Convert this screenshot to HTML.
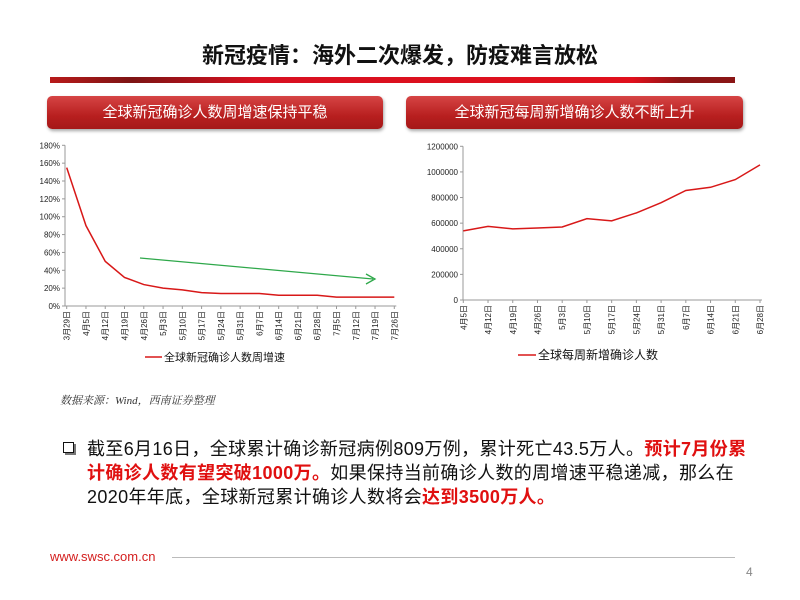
<!DOCTYPE html>
<html><head><meta charset="utf-8">
<style>
body{margin:0;width:800px;height:600px;background:#fff;position:relative;overflow:hidden;font-family:"Liberation Sans","Noto Sans CJK SC",sans-serif;}
.abs{position:absolute;}
.hdr{position:absolute;top:96px;height:33px;border-radius:5px;background:linear-gradient(#d64545,#b81f1f 60%,#a51818);color:#fff;font-size:15px;line-height:33px;text-align:center;box-shadow:1px 2px 3px rgba(0,0,0,0.35);}
.body{position:absolute;left:87px;top:437px;font-size:18px;line-height:24px;color:#111;letter-spacing:0.35px;white-space:nowrap;}
.red{color:#e01010;font-weight:bold;}
</style></head><body>
<div class="abs" style="left:0;top:38px;width:800px;text-align:center;font-size:22px;font-weight:bold;color:#111;">新冠疫情：海外二次爆发，防疫难言放松</div>
<div class="abs" style="left:50px;top:77px;width:685px;height:6px;background:linear-gradient(90deg,#b81a1a 0%,#7d1414 12%,#d81020 30%,#e0101c 85%,#8a1515 92%);"></div>
<div class="hdr" style="left:47px;width:336px;">全球新冠确诊人数周增速保持平稳</div>
<div class="hdr" style="left:406px;width:337px;">全球新冠每周新增确诊人数不断上升</div>

<svg class="abs" style="left:0;top:0" width="800" height="600">
<g id="left"></g>
<g id="right"></g>
</svg>

<div class="abs" style="left:60px;top:392px;font-size:11px;font-style:italic;color:#333;font-family:'Liberation Serif','Noto Serif CJK SC',serif;">数据来源：Wind，西南证券整理</div>
<div class="abs" style="left:63px;top:442px;width:9px;height:9px;border:1.5px solid #111;box-shadow:2px 2px 0 #777;"></div>
<div class="body">截至6月16日，全球累计确诊新冠病例809万例，累计死亡43.5万人。<span class="red">预计7月份累<br>计确诊人数有望突破1000万。</span>如果保持当前确诊人数的周增速平稳递减，那么在<br>2020年年底，全球新冠累计确诊人数将会<span class="red">达到3500万人。</span></div>
<div class="abs" style="left:50px;top:549px;font-size:13px;color:#d42020;">www.swsc.com.cn</div>
<div class="abs" style="left:172px;top:557px;width:563px;height:1px;background:#bbb;"></div>
<div class="abs" style="left:746px;top:565px;font-size:12px;color:#888;">4</div>

<script>
const leftCats=["3月29日","4月5日","4月12日","4月19日","4月26日","5月3日","5月10日","5月17日","5月24日","5月31日","6月7日","6月14日","6月21日","6月28日","7月5日","7月12日","7月19日","7月26日"];
const leftVals=[155,90,50,32,24,20,18,15,14,14,14,12,12,12,10,10,10,10];
const leftTicks=[0,20,40,60,80,100,120,140,160,180];
const rightCats=["4月5日","4月12日","4月19日","4月26日","5月3日","5月10日","5月17日","5月24日","5月31日","6月7日","6月14日","6月21日","6月28日"];
const rightVals=[540000,575000,555000,562000,570000,635000,618000,680000,760000,855000,880000,940000,1055000];
const rightTicks=[0,200000,400000,600000,800000,1000000,1200000];
const NS="http://www.w3.org/2000/svg";
function mk(p,t,a){const e=document.createElementNS(NS,t);for(const k in a)e.setAttribute(k,a[k]);p.appendChild(e);return e;}
function chart(g,cats,vals,ticks,fmt,x0,x1,y0,y1,ymax,axisX,name){
  const n=cats.length,step=(x1-x0)/(n-1);
  const xs=i=>x0+i*step, ys=v=>y0-(v/ymax)*(y0-y1);
  let ax=mk(g,'line',{x1:axisX,y1:y1,x2:axisX,y2:y0,stroke:'#999','stroke-width':1});
  
  let bx=mk(g,'line',{x1:axisX,y1:y0,x2:x1+2,y2:y0,stroke:'#999','stroke-width':1});
  
  ticks.forEach(t=>{
    mk(g,'line',{x1:axisX-3,y1:ys(t),x2:axisX,y2:ys(t),stroke:'#999'});
    const tx=mk(g,'text',{x:axisX-5,y:ys(t)+3,'font-size':8,'text-anchor':'end',fill:'#222'});
    tx.textContent=fmt(t);
    
  });
  cats.forEach((c,i)=>{
    mk(g,'line',{x1:xs(i),y1:y0,x2:xs(i),y2:y0+3,stroke:'#999'});
    const tx=mk(g,'text',{transform:`translate(${xs(i)+3},${y0+5}) rotate(-90)`,'font-size':8,'text-anchor':'end',fill:'#222'});
    tx.textContent=c;
    
  });
  const pl=mk(g,'polyline',{points:vals.map((v,i)=>xs(i)+','+ys(v)).join(' '),fill:'none',stroke:'#d81818','stroke-width':1.5});
  
}
const L=document.getElementById('left'),R=document.getElementById('right');
chart(L,leftCats,leftVals,leftTicks,t=>t+'%',66.7,394.3,306,145.3,180,65,'growth-rate-line');
chart(R,rightCats,rightVals,rightTicks,t=>String(t),463.3,760,300,146.3,1200000,463,'weekly-new-cases-line');
const ar=mk(L,'line',{x1:140,y1:258,x2:373,y2:279,stroke:'#2ea84a','stroke-width':1.3});

mk(L,'polyline',{points:'366,274 375,279 366,284',fill:'none',stroke:'#2ea84a','stroke-width':1.3});
let lg=mk(L,'line',{x1:145,y1:357,x2:162,y2:357,stroke:'#d81818','stroke-width':1.5});

let lt=mk(L,'text',{x:164,y:361,'font-size':11,fill:'#111'});lt.textContent='全球新冠确诊人数周增速';

let rg=mk(R,'line',{x1:518,y1:355,x2:536,y2:355,stroke:'#d81818','stroke-width':1.5});

let rt=mk(R,'text',{x:538,y:359,'font-size':12,fill:'#111'});rt.textContent='全球每周新增确诊人数';

</script>
</body></html>
